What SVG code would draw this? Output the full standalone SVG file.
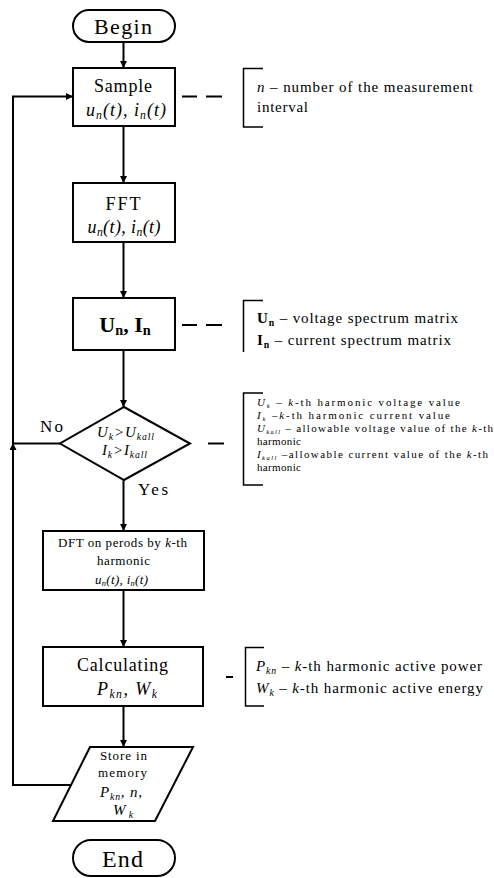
<svg xmlns="http://www.w3.org/2000/svg" width="494" height="878" viewBox="0 0 494 878" font-family="'Liberation Serif', 'DejaVu Serif', serif">
<defs>
<marker id="ah" viewBox="0 0 10 10" refX="10" refY="5" markerWidth="7" markerHeight="7" orient="auto" markerUnits="userSpaceOnUse">
<path d="M0,0 L10,5 L0,10 z" fill="#000"/>
</marker>
<style>
.sh{fill:#fff;stroke:#000;stroke-width:2}
.ln{fill:none;stroke:#000;stroke-width:2}
.br{fill:none;stroke:#000;stroke-width:1.5}
text{font-family:'Liberation Serif','DejaVu Serif',serif;fill:#000}
.c{text-anchor:middle}
.i{font-style:italic}
.s{font-size:65%}
.t{font-size:60%}
</style>
</defs>
<rect width="494" height="878" fill="#fff"/>

<g id="connectors">
<line class="ln" x1="123.5" y1="42" x2="123.5" y2="68" marker-end="url(#ah)"/>
<line class="ln" x1="123.5" y1="126" x2="123.5" y2="183" marker-end="url(#ah)"/>
<line class="ln" x1="123.5" y1="242" x2="123.5" y2="298" marker-end="url(#ah)"/>
<line class="ln" x1="123.5" y1="350" x2="123.5" y2="407" marker-end="url(#ah)"/>
<line class="ln" x1="123.5" y1="480" x2="123.5" y2="531" marker-end="url(#ah)"/>
<line class="ln" x1="123.5" y1="590" x2="123.5" y2="647" marker-end="url(#ah)"/>
<line class="ln" x1="123.5" y1="706" x2="123.5" y2="747" marker-end="url(#ah)"/>
<polyline class="ln" points="73,785 13,785 13,445"/>
<line class="ln" x1="13" y1="785" x2="13" y2="443" marker-end="url(#ah)"/>
<polyline class="ln" points="13,445 13,96.5 73,96.5" marker-end="url(#ah)"/>
<line class="ln" x1="60" y1="443.5" x2="13" y2="443.5"/>
<line class="ln" x1="182" y1="96.5" x2="197" y2="96.5"/>
<line class="ln" x1="206" y1="96.5" x2="222" y2="96.5"/>
<line class="ln" x1="182" y1="325" x2="197" y2="325"/>
<line class="ln" x1="206" y1="325" x2="222" y2="325"/>
<line class="ln" x1="208" y1="443.5" x2="224" y2="443.5"/>
<line class="ln" x1="226" y1="677" x2="233" y2="677"/>
</g>

<g id="begin">
<rect class="sh" x="73" y="10" width="102" height="32" rx="16"/>
<text class="c" x="123" y="34" font-size="22" textLength="58">Begin</text>
</g>

<g id="sample">
<rect class="sh" x="73" y="68" width="102" height="58"/>
<text class="c" x="123" y="92" font-size="18" textLength="58">Sample</text>
<text class="c i" x="126" y="116" font-size="18" textLength="80">u<tspan class="s" dy="3">n</tspan><tspan dy="-3">(t), i</tspan><tspan class="s" dy="3">n</tspan><tspan dy="-3">(t)</tspan></text>
</g>

<g id="note-n">
<polyline class="br" points="263,68.5 243.5,68.5 243.5,127 263,127"/>
<text x="257" y="92" font-size="15" textLength="216"><tspan class="i">n</tspan> – number of the measurement</text>
<text x="257" y="112" font-size="15" textLength="51">interval</text>
</g>

<g id="fft">
<rect class="sh" x="73" y="183" width="102" height="59"/>
<text class="c" x="123" y="210" font-size="18" textLength="35">FFT</text>
<text class="c i" x="124" y="233" font-size="18" textLength="73">u<tspan class="s" dy="3">n</tspan><tspan dy="-3">(t), i</tspan><tspan class="s" dy="3">n</tspan><tspan dy="-3">(t)</tspan></text>
</g>

<g id="spectrum">
<rect class="sh" x="73" y="298" width="102" height="52"/>
<text class="c" x="125" y="332" font-size="22" font-weight="bold">U<tspan class="s" dy="3">n</tspan><tspan dy="-3">, I</tspan><tspan class="s" dy="3">n</tspan></text>
</g>

<g id="note-spectrum">
<polyline class="br" points="263,300.5 243.5,300.5 243.5,352"/>
<text x="257" y="323" font-size="15" textLength="201"><tspan font-weight="bold">U</tspan><tspan class="s" font-weight="bold" dy="3">n</tspan><tspan dy="-3"> – voltage spectrum matrix</tspan></text>
<text x="257" y="345" font-size="15" textLength="194"><tspan font-weight="bold">I</tspan><tspan class="s" font-weight="bold" dy="3">n</tspan><tspan dy="-3"> – current spectrum matrix</tspan></text>
</g>

<g id="decision">
<polygon class="sh" points="124,407 190,443.5 124,480 60,443.5"/>
<text class="c i" x="125.5" y="437" font-size="15" textLength="57">U<tspan class="s" dy="3">k</tspan><tspan dy="-3">&gt;U</tspan><tspan class="s" dy="3">kall</tspan></text>
<text class="c i" x="124.5" y="455" font-size="15" textLength="45">I<tspan class="s" dy="3">k</tspan><tspan dy="-3">&gt;I</tspan><tspan class="s" dy="3">kall</tspan></text>
<text x="40" y="432" font-size="17" textLength="23">No</text>
<text x="138" y="495" font-size="17" textLength="30">Yes</text>
</g>

<g id="note-decision">
<polyline class="br" points="263,393 243.5,393 243.5,485 263,485"/>
<text x="257" y="406" font-size="11" textLength="203"><tspan class="i">U</tspan><tspan class="i t" dy="1.5">k</tspan><tspan dy="-1.5"> – </tspan><tspan class="i">k</tspan>-th harmonic voltage value</text>
<text x="257" y="419" font-size="11" textLength="193"><tspan class="i">I</tspan><tspan class="i t" dy="1.5">k</tspan><tspan dy="-1.5"> –</tspan><tspan class="i">k</tspan>-th harmonic current value</text>
<text x="257" y="432" font-size="11" textLength="236"><tspan class="i">U</tspan><tspan class="i t" dy="1.5">kall</tspan><tspan dy="-1.5"> – allowable voltage value of the </tspan><tspan class="i">k</tspan>-th</text>
<text x="257" y="445" font-size="11" textLength="44">harmonic</text>
<text x="257" y="458" font-size="11" textLength="231"><tspan class="i">I</tspan><tspan class="i t" dy="1.5">kall</tspan><tspan dy="-1.5"> –allowable current value of the </tspan><tspan class="i">k</tspan>-th</text>
<text x="257" y="471" font-size="11" textLength="44">harmonic</text>
</g>

<g id="dft">
<rect class="sh" x="43" y="531" width="161" height="59"/>
<text class="c" x="122.5" y="547" font-size="13" textLength="129">DFT on perods by <tspan class="i">k</tspan>-th</text>
<text class="c" x="123.5" y="565" font-size="13" textLength="53">harmonic</text>
<text class="c i" x="121.5" y="584" font-size="13" textLength="53">u<tspan class="s" dy="2">n</tspan><tspan dy="-2">(t),  i</tspan><tspan class="s" dy="2">n</tspan><tspan dy="-2">(t)</tspan></text>
</g>

<g id="calculating">
<rect class="sh" x="43" y="647" width="160" height="59"/>
<text class="c" x="122.5" y="671" font-size="18" textLength="91">Calculating</text>
<text class="c i" x="127" y="695" font-size="18" textLength="60">P<tspan class="s" dy="3">kn</tspan><tspan dy="-3">, W</tspan><tspan class="s" dy="3">k</tspan></text>
</g>

<g id="note-calc">
<polyline class="br" points="264,647.5 245.5,647.5 245.5,706 264,706"/>
<text x="256" y="671" font-size="15" textLength="226"><tspan class="i">P</tspan><tspan class="i s" dy="3">kn</tspan><tspan dy="-3"> – </tspan><tspan class="i">k</tspan>-th harmonic active power</text>
<text x="256" y="693" font-size="15" textLength="227"><tspan class="i">W</tspan><tspan class="i s" dy="3">k</tspan><tspan dy="-3"> – </tspan><tspan class="i">k</tspan>-th harmonic active energy</text>
</g>

<g id="store">
<polygon class="sh" points="90,747 193,747 155,821 53,821"/>
<text class="c" x="123.5" y="760" font-size="13" textLength="47">Store in</text>
<text class="c" x="122.5" y="777" font-size="13" textLength="49">memory</text>
<text class="c i" x="121" y="797" font-size="15" textLength="42">P<tspan class="s" dy="3">kn</tspan><tspan dy="-3">, n,</tspan></text>
<text class="c i" x="123" y="815" font-size="15" textLength="20">W<tspan class="s" dy="3">k</tspan></text>
</g>

<g id="end">
<rect class="sh" x="73" y="840" width="102" height="36" rx="18"/>
<text class="c" x="122.5" y="867" font-size="24" textLength="41">End</text>
</g>
</svg>
